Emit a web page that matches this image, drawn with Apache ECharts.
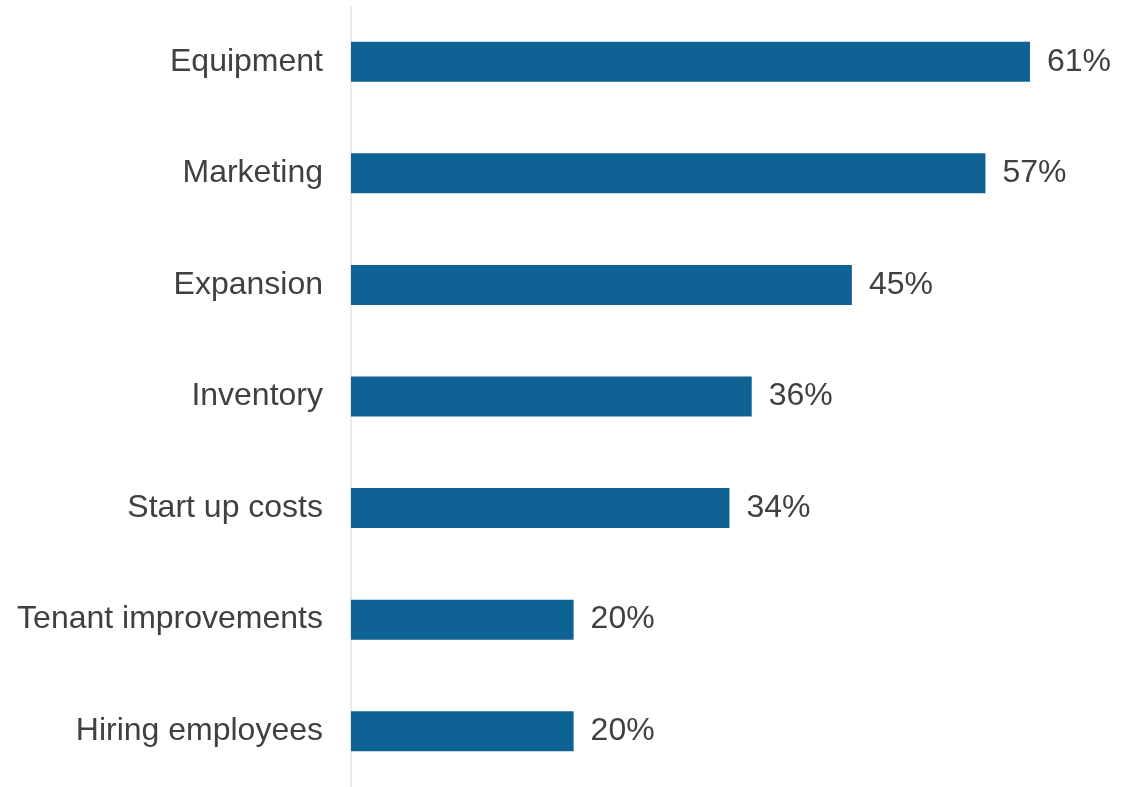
<!DOCTYPE html>
<html>
<head>
<meta charset="utf-8">
<script src="https://cdn.jsdelivr.net/npm/echarts@6/dist/echarts.min.js"></script>
<style>
  html, body { margin: 0; padding: 0; background: #ffffff; }
  #chart { width: 1124px; height: 787px; }
</style>
</head>
<body>
<div id="chart"></div>
<script>
// Uses of funding, share of respondents (%)
const categories = [
  'Equipment',
  'Marketing',
  'Expansion',
  'Inventory',
  'Start up costs',
  'Tenant improvements',
  'Hiring employees'
];
const shares = [61, 57, 45, 36, 34, 20, 20];

const FONT = '"Liberation Sans", Arial, Helvetica, sans-serif';
const TEXT = '#404040';

const chart = echarts.init(document.getElementById('chart'), null, { renderer: 'canvas' });
chart.setOption({
  backgroundColor: '#ffffff',
  animation: false,
  grid: { left: 351, right: 49.5, top: 6, bottom: -3, containLabel: false },
  xAxis: {
    type: 'value',
    min: 0,
    max: 65,
    show: false
  },
  yAxis: {
    type: 'category',
    data: categories,
    inverse: true,
    axisLine: { show: true, lineStyle: { color: '#e3e3e3', width: 1.5 } },
    axisTick: { show: false },
    splitLine: { show: false },
    axisLabel: {
      margin: 28,
      fontFamily: FONT,
      fontSize: 32,
      color: TEXT
    }
  },
  series: [{
    type: 'bar',
    data: shares,
    barWidth: 40,
    itemStyle: { color: '#0f6394' },
    label: {
      show: true,
      position: 'right',
      distance: 17,
      formatter: p => p.value + '%',
      fontFamily: FONT,
      fontSize: 32,
      color: TEXT
    }
  }]
});
</script>
</body>
</html>
